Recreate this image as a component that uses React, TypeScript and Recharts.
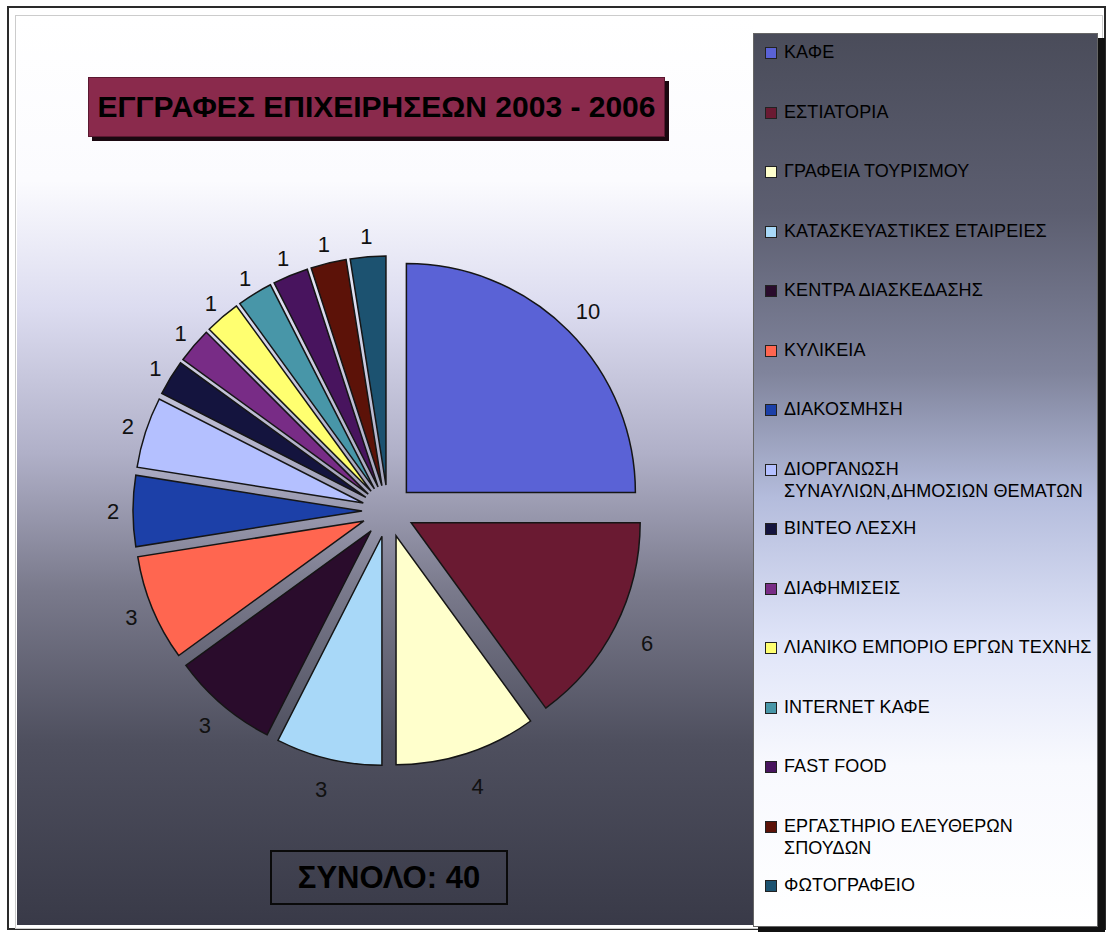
import { PieChart, Pie, Cell, Legend } from "recharts";

const CATEGORIES = [
    "ΚΑΦΕ",
    "ΕΣΤΙΑΤΟΡΙΑ",
    "ΓΡΑΦΕΙΑ ΤΟΥΡΙΣΜΟΥ",
    "ΚΑΤΑΣΚΕΥΑΣΤΙΚΕΣ ΕΤΑΙΡΕΙΕΣ",
    "ΚΕΝΤΡΑ ΔΙΑΣΚΕΔΑΣΗΣ",
    "ΚΥΛΙΚΕΙΑ",
    "ΔΙΑΚΟΣΜΗΣΗ",
    "ΔΙΟΡΓΑΝΩΣΗ\nΣΥΝΑΥΛΙΩΝ,ΔΗΜΟΣΙΩΝ ΘΕΜΑΤΩΝ",
    "ΒΙΝΤΕΟ ΛΕΣΧΗ",
    "ΔΙΑΦΗΜΙΣΕΙΣ",
    "ΛΙΑΝΙΚΟ ΕΜΠΟΡΙΟ ΕΡΓΩΝ ΤΕΧΝΗΣ",
    "INTERNET ΚΑΦΕ",
    "FAST FOOD",
    "ΕΡΓΑΣΤΗΡΙΟ ΕΛΕΥΘΕΡΩΝ\nΣΠΟΥΔΩΝ",
    "ΦΩΤΟΓΡΑΦΕΙΟ",
];

const VALUES = [10, 6, 4, 3, 3, 3, 2, 2, 1, 1, 1, 1, 1, 1, 1];

const COLORS = [
    "#5a62d6", "#6a1a32", "#ffffcc", "#a8d8f8", "#2a0c2c",
    "#ff6650", "#1c40a8", "#b4c0ff", "#14143e", "#782c86",
    "#ffff70", "#4896a8", "#48145e", "#5c1208", "#1c5270",
];

const TITLE = "ΕΓΓΡΑΦΕΣ ΕΠΙΧΕΙΡΗΣΕΩΝ 2003 - 2006";
const TOTAL_LABEL = "ΣΥΝΟΛΟ: 40";

const data = CATEGORIES.map((name, i) => ({ name, value: VALUES[i] }));
const total = VALUES.reduce((a, b) => a + b, 0);

const EXPLODE = 26;
const RAD = Math.PI / 180;

// offset of each slice along its middle angle (clockwise from 12 o'clock)
const offsets = (() => {
    let cum = 0;
    return VALUES.map((v) => {
        const mid = ((cum + v / 2) / total) * 360;
        cum += v;
        return { dx: EXPLODE * Math.sin(mid * RAD), dy: -EXPLODE * Math.cos(mid * RAD) };
    });
})();

const FONT = "'Liberation Sans', Arial, sans-serif";

const renderLabel = (props: any) => {
    const { cx, cy, midAngle, outerRadius, value, index } = props;
    const ux = Math.cos(-midAngle * RAD);
    const uy = Math.sin(-midAngle * RAD);
    // labels sit a bit further out towards the bottom right, closer on the top left
    const r = outerRadius + 27 + 6 * uy + 7 * ux;
    const x = cx + r * ux + offsets[index].dx;
    const y = cy + r * uy + offsets[index].dy;
    return (
        <text x={x} y={y} textAnchor="middle" dominantBaseline="central" fontSize={22} fontFamily={FONT} fill="#111">
            {value}
        </text>
    );
};

const renderLegend = () => (
    <div style={{ fontFamily: FONT, fontSize: 18, color: "#000" }}>
        {CATEGORIES.map((name, i) => (
            <div key={name} style={{ height: 59.5, display: "flex", alignItems: "flex-start", paddingTop: 8, boxSizing: "border-box" }}>
                <span style={{ width: 10, height: 10, background: COLORS[i], border: "1px solid #222", marginTop: 6, marginRight: 7, flexShrink: 0 }} />
                <span style={{ whiteSpace: "pre-line", lineHeight: "22px", letterSpacing: 0.1 }}>{name}</span>
            </div>
        ))}
    </div>
);

export default function App() {
    return (
        <div style={{ position: "absolute", left: 0, top: 0, width: 1110, height: 933, background: "#fff", overflow: "hidden" }}>
            <div style={{ position: "absolute", left: 7, top: 6, width: 1095, height: 920, border: "2px solid #2a2a2a" }} />
            <div style={{ position: "absolute", left: 15, top: 15, width: 1086, height: 912, border: "1px solid #ccc" }} />
            <div
                style={{
                    position: "absolute", left: 17, top: 17, width: 736, height: 908,
                    background: "linear-gradient(to bottom, #ffffff 0%, #fbfbfe 18%, #dcdcf0 32%, #b0b0c8 48%, #7a7a8c 63%, #4e4f5e 80%, #393a48 100%)",
                }}
            />
            <div style={{ position: "absolute", left: 758, top: 38, width: 347, height: 894, background: "#111" }} />
            <div
                style={{
                    position: "absolute", left: 753, top: 33, width: 345, height: 894, boxSizing: "border-box", border: "1px solid #666",
                    background: "linear-gradient(to bottom, #4a4c5a 0%, #5c5e70 20%, #80849c 38%, #b4bcdc 52%, #dfe4f8 68%, #f8f9fe 82%, #ffffff 100%)",
                }}
            />
            <div style={{ position: "absolute", left: 92, top: 81, width: 577, height: 60, background: "#1a0810" }} />
            <div
                style={{
                    position: "absolute", left: 88, top: 77, width: 577, height: 60, boxSizing: "border-box",
                    background: "#8a2a4c", border: "1px solid #5a1830", display: "flex", alignItems: "center", justifyContent: "center",
                    fontFamily: FONT, fontWeight: "bold", fontSize: 30, color: "#000", whiteSpace: "nowrap",
                }}
            >
                {TITLE}
            </div>
            <div
                style={{
                    position: "absolute", left: 270, top: 850, width: 238, height: 55, boxSizing: "border-box",
                    border: "2px solid #0a0a0a", display: "flex", alignItems: "center", justifyContent: "center",
                    fontFamily: FONT, fontWeight: "bold", fontSize: 31, color: "#000",
                }}
            >
                {TOTAL_LABEL}
            </div>
            <div style={{ position: "absolute", left: 0, top: 0 }}>
                <PieChart width={1110} height={933}>
                    <Pie
                        data={data}
                        dataKey="value"
                        nameKey="name"
                        cx={383}
                        cy={506}
                        outerRadius={229}
                        startAngle={90}
                        endAngle={-270}
                        stroke="#151515"
                        strokeWidth={1.5}
                        label={renderLabel}
                        labelLine={false}
                        isAnimationActive={false}
                    >
                        {data.map((entry, index) => (
                            <Cell
                                key={`cell-${index}`}
                                fill={COLORS[index]}
                                transform={`translate(${offsets[index].dx}, ${offsets[index].dy})`}
                            />
                        ))}
                    </Pie>
                    <Legend
                        content={renderLegend}
                        layout="vertical"
                        wrapperStyle={{ position: "absolute", left: 765, top: 33, width: 335, height: 894 }}
                    />
                </PieChart>
            </div>
        </div>
    );
}
